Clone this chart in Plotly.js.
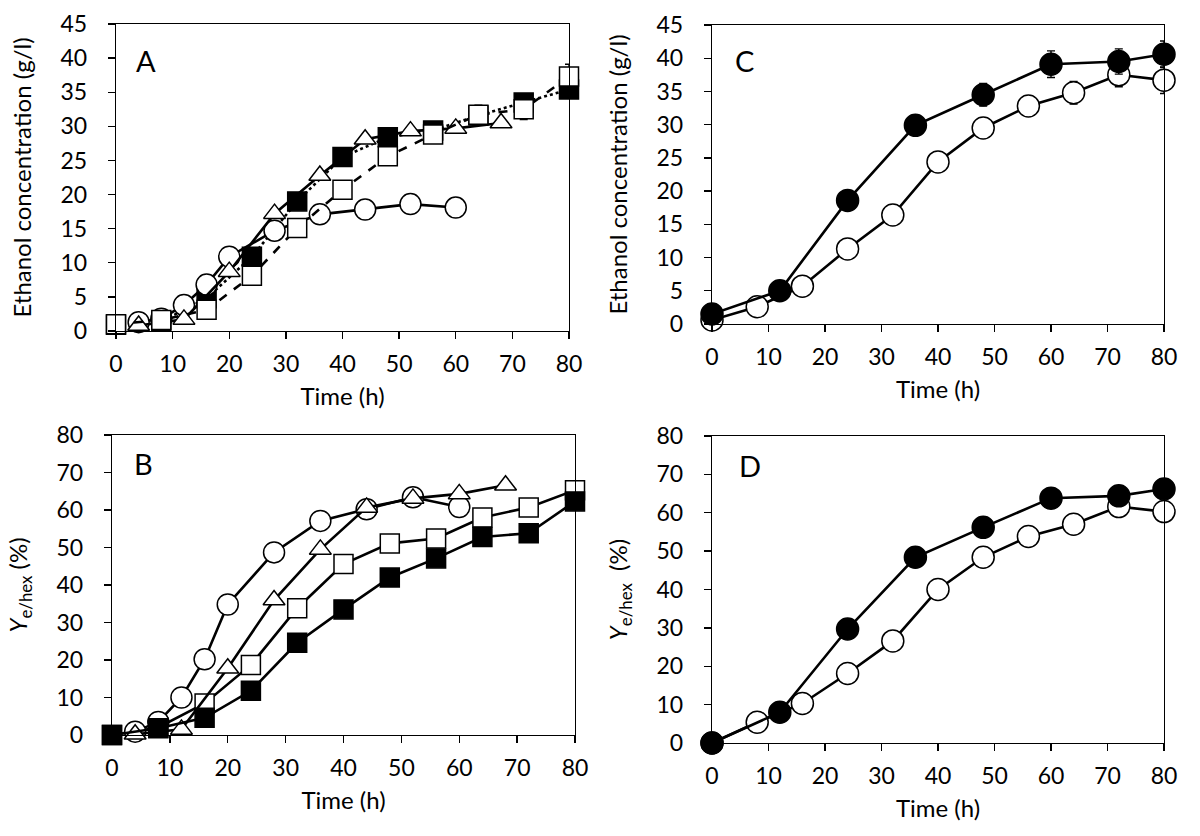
<!DOCTYPE html>
<html>
<head>
    <title>Ethanol concentration and yield</title>
    <style>
        html, body, #plot {
            height: 100%;
            width: 100%;
            margin: 0;
            padding: 0;
            overflow: hidden;
            background: #ffffff;
        }
    </style>
    <script src="https://cdn.plot.ly/plotly-3.0.1.min.js"></script>
</head>

<body>
<div id="plot"></div>
<script>
    // sampling times (h)
    const timeSq = [0, 8, 16, 24, 32, 40, 48, 56, 64, 72, 80];
    const timeCirc = [4, 8, 12, 16, 20, 28, 36, 44, 52, 60];
    const timeTri = [4, 12, 20, 28, 36, 44, 52, 60, 68];
    const timeFilled = [0, 12, 24, 36, 48, 60, 72, 80];
    const timeOpen = [0, 8, 16, 24, 32, 40, 48, 56, 64, 72, 80];

    // panel A - ethanol (g/l)
    const ethA_filledSq = [0.9, 1.4, 4.8, 10.9, 19.0, 25.5, 28.4, 29.4, 31.6, 33.5, 35.4];
    const ethA_circ = [1.3, 1.8, 3.8, 6.8, 10.9, 14.7, 17.1, 17.8, 18.6, 18.1];
    const ethA_tri = [0.8, 1.7, 8.7, 17.2, 22.8, 28.1, 29.3, 29.7, 30.5];
    const ethA_openSq = [1.0, 1.6, 3.1, 8.1, 15.1, 20.7, 25.6, 28.8, 31.7, 32.5, 37.3];
    const errA_openSq = [0, 0, 0, 0, 0, 0, 0, 0, 1.4, 1.5, 1.8];

    // panel B - yield Ye/hex (%)
    const yieldB_filledSq = [0, 1.8, 4.6, 11.8, 24.6, 33.5, 42.0, 47.1, 52.8, 53.8, 62.3];
    const yieldB_circ = [0.9, 3.5, 10.0, 20.2, 34.8, 48.7, 57.1, 60.2, 63.4, 60.8];
    const yieldB_tri = [0.2, 1.5, 17.8, 36.0, 49.5, 60.7, 63.1, 64.3, 66.6];
    const yieldB_openSq = [0, 2.0, 8.4, 18.7, 33.8, 45.6, 51.1, 52.4, 58.0, 60.7, 65.3];

    // panel C - ethanol (g/l)
    const ethC_filled = [1.5, 5.0, 18.6, 29.9, 34.5, 39.1, 39.5, 40.6];
    const errC_filled = [0, 0, 0, 1.1, 1.7, 2.0, 1.9, 2.0];
    const ethC_open = [0.6, 2.6, 5.7, 11.3, 16.4, 24.4, 29.5, 32.8, 34.8, 37.5, 36.7];
    const errC_open = [0, 0, 0, 0, 0, 0, 1.3, 1.5, 1.7, 1.8, 2.0];

    // panel D - yield Ye/hex (%)
    const yieldD_filled = [0, 8.0, 29.7, 48.4, 56.2, 63.8, 64.4, 66.2];
    const yieldD_open = [0, 5.4, 10.3, 18.1, 26.6, 40.0, 48.4, 53.8, 57.0, 61.6, 60.3];

    const FONT = 'Lato, "Open Sans", sans-serif';
    const W = 1200, H = 836;

    function series(xa, ya, x, y, symbol, fill, dash, size, err) {
        const tr = {
            x: x,
            y: y,
            xaxis: xa,
            yaxis: ya,
            type: 'scatter',
            mode: 'lines+markers',
            cliponaxis: false,
            line: {color: '#000000', width: 2.6, dash: dash},
            marker: {
                symbol: symbol,
                size: size,
                color: fill,
                line: {color: '#000000', width: 1.5}
            }
        };
        if (err) {
            tr.error_y = {type: 'data', array: err, visible: true, color: '#000000', thickness: 1.4, width: 4};
        }
        return tr;
    }

    const data = [
        // A
        series('x', 'y', timeSq, ethA_filledSq, 'square', '#000000', 'dot', 19),
        series('x', 'y', timeCirc, ethA_circ, 'circle', '#ffffff', 'solid', 21),
        series('x', 'y', timeTri, ethA_tri, 'triangle-up', '#ffffff', 'solid', 19),
        series('x', 'y', timeSq, ethA_openSq, 'square', '#ffffff', 'dash', 19, errA_openSq),
        // B
        series('x2', 'y2', timeSq, yieldB_openSq, 'square', '#ffffff', 'solid', 19),
        series('x2', 'y2', timeCirc, yieldB_circ, 'circle', '#ffffff', 'solid', 21),
        series('x2', 'y2', timeTri, yieldB_tri, 'triangle-up', '#ffffff', 'solid', 19),
        series('x2', 'y2', timeSq, yieldB_filledSq, 'square', '#000000', 'solid', 19),
        // C
        series('x3', 'y3', timeOpen, ethC_open, 'circle', '#ffffff', 'solid', 22, errC_open),
        series('x3', 'y3', timeFilled, ethC_filled, 'circle', '#000000', 'solid', 22, errC_filled),
        // D
        series('x4', 'y4', timeOpen, yieldD_open, 'circle', '#ffffff', 'solid', 22),
        series('x4', 'y4', timeFilled, yieldD_filled, 'circle', '#000000', 'solid', 22)
    ];

    // pixel box of each panel: [left, right, top, bottom]
    const boxes = {
        A: [116, 569, 24, 331],
        B: [112, 575, 435, 735],
        C: [712, 1164, 25, 324],
        D: [712, 1164, 436, 743]
    };

    function xDom(b) { return [b[0] / W, b[1] / W]; }
    function yDom(b) { return [1 - b[3] / H, 1 - b[2] / H]; }

    function xAxis(b, anchor) {
        return {
            domain: xDom(b),
            anchor: anchor,
            range: [0, 80],
            dtick: 10,
            tick0: 0,
            ticks: 'outside',
            ticklen: 7,
            tickwidth: 1.3,
            tickcolor: '#000000',
            ticklabelstandoff: 5,
            showline: true,
            linecolor: '#000000',
            linewidth: 1.3,
            mirror: true,
            showgrid: false,
            zeroline: false,
            tickfont: {family: FONT, size: 23, color: '#000000'},
            title: {text: 'Time (h)', standoff: 12, font: {family: FONT, size: 24, color: '#000000'}}
        };
    }

    function yAxis(b, anchor, max, step, title, standoff) {
        return {
            domain: yDom(b),
            anchor: anchor,
            range: [0, max],
            dtick: step,
            tick0: 0,
            ticks: 'outside',
            ticklen: 7,
            tickwidth: 1.3,
            tickcolor: '#000000',
            ticklabelstandoff: 16,
            showline: true,
            linecolor: '#000000',
            linewidth: 1.3,
            mirror: true,
            showgrid: false,
            zeroline: false,
            tickfont: {family: FONT, size: 23, color: '#000000'},
            title: {text: title, standoff: standoff, font: {family: FONT, size: 24, color: '#000000'}}
        };
    }

    const ethTitle = 'Ethanol concentration (g/l)';
    const yieldTitle = '<i>Y</i><sub>e/hex</sub> (%)';
    const yieldTitleD = '<i>Y</i><sub>e/hex</sub>  (%)';

    function letter(t, px, py) {
        return {
            text: t,
            xref: 'paper', yref: 'paper',
            x: px / W, y: 1 - py / H,
            xanchor: 'center', yanchor: 'middle',
            showarrow: false,
            font: {family: FONT, size: 29, color: '#000000'}
        };
    }

    const layout = {
        width: W,
        height: H,
        margin: {l: 0, r: 0, t: 0, b: 0, pad: 0},
        paper_bgcolor: '#ffffff',
        plot_bgcolor: '#ffffff',
        showlegend: false,
        hovermode: false,
        xaxis: xAxis(boxes.A, 'y'),
        yaxis: yAxis(boxes.A, 'x', 45, 5, ethTitle, 22),
        xaxis2: xAxis(boxes.B, 'y2'),
        yaxis2: yAxis(boxes.B, 'x2', 80, 10, yieldTitle, 22),
        xaxis3: xAxis(boxes.C, 'y3'),
        yaxis3: yAxis(boxes.C, 'x3', 45, 5, ethTitle, 22),
        xaxis4: xAxis(boxes.D, 'y4'),
        yaxis4: yAxis(boxes.D, 'x4', 80, 10, yieldTitleD, 22),
        annotations: [
            letter('A', 146, 60),
            letter('B', 143, 463),
            letter('C', 744, 60),
            letter('D', 750, 465)
        ]
    };

    const config = {displayModeBar: false, staticPlot: true};

    Plotly.newPlot('plot', data, layout, config);
</script>
</body>
</html>
